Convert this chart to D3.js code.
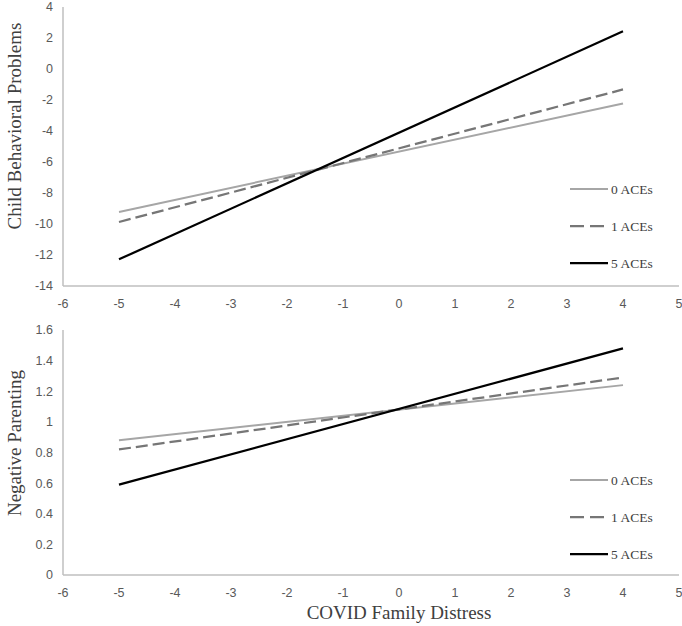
<!DOCTYPE html>
<html>
<head>
<meta charset="utf-8">
<script src="https://cdn.jsdelivr.net/npm/d3@7"></script>
<style>
  body { margin: 0; background: #fff; }
  .tick-label { font-family: "Liberation Sans", Arial, sans-serif; font-size: 12.5px; fill: #595959; }
  .title { font-family: "Liberation Serif", "Times New Roman", serif; font-size: 19px; fill: #404040; }
  .legend-text { font-family: "Liberation Serif", "Times New Roman", serif; font-size: 13.5px; fill: #404040; }
</style>
</head>
<body>
<svg class="chart"></svg>
<script>
    // Data
    const seriesNames = ["0 ACEs", "1 ACEs", "5 ACEs"];
    const distress = [-5, 4];
    const behaviorValues = [
        [-9.22, -2.22],
        [-9.87, -1.32],
        [-12.28, 2.43]
    ];
    const parentingValues = [
        [0.88, 1.24],
        [0.82, 1.29],
        [0.59, 1.48]
    ];
    const xTicks = [-6, -5, -4, -3, -2, -1, 0, 1, 2, 3, 4, 5];
    const behaviorTicks = [-14, -12, -10, -8, -6, -4, -2, 0, 2, 4];
    const parentingTicks = [0, 0.2, 0.4, 0.6, 0.8, 1, 1.2, 1.4, 1.6];

    const width = 682;
    const height = 626;

    const seriesStyle = [
        { stroke: "#a6a6a6", width: 2, dash: null },
        { stroke: "#767676", width: 2.25, dash: "12,5" },
        { stroke: "#000000", width: 2.25, dash: null }
    ];

    let svg = d3.select("svg.chart")
        .attr("width", width)
        .attr("height", height);

    let x = d3.scaleLinear().domain([-6, 5]).range([63, 679]);

    function drawPanel(opts) {
        let y = d3.scaleLinear().domain(opts.yDomain).range(opts.yRange);
        let g = svg.append("g");

        // axis lines
        g.append("line")
            .attr("x1", x(-6)).attr("x2", x(-6))
            .attr("y1", y(opts.yDomain[0])).attr("y2", y(opts.yDomain[1]))
            .attr("stroke", "#bfbfbf").attr("stroke-width", 1.5);
        g.append("line")
            .attr("x1", x(-6)).attr("x2", x(5))
            .attr("y1", y(opts.yDomain[0])).attr("y2", y(opts.yDomain[0]))
            .attr("stroke", "#bfbfbf").attr("stroke-width", 1.5);

        // y tick labels
        g.selectAll(".ytick")
            .data(opts.yTicks)
            .enter().append("text")
            .attr("class", "tick-label")
            .attr("x", 53)
            .attr("y", function (d) { return y(d); })
            .attr("dy", "0.35em")
            .attr("text-anchor", "end")
            .text(function (d) { return String(+d.toFixed(1)); });

        // x tick labels
        g.selectAll(".xtick")
            .data(xTicks)
            .enter().append("text")
            .attr("class", "tick-label")
            .attr("x", function (d) { return x(d); })
            .attr("y", y(opts.yDomain[0]) + 18)
            .attr("dy", "0.35em")
            .attr("text-anchor", "middle")
            .text(function (d) { return d; });

        // y title
        g.append("text")
            .attr("class", "title")
            .attr("transform", "translate(21," + opts.titleY + ") rotate(-90)")
            .attr("text-anchor", "middle")
            .text(opts.title);

        // lines
        let line = d3.line()
            .x(function (d) { return x(d[0]); })
            .y(function (d) { return y(d[1]); });

        opts.values.forEach(function (vals, i) {
            g.append("path")
                .datum(distress.map(function (xv, j) { return [xv, vals[j]]; }))
                .attr("fill", "none")
                .attr("stroke", seriesStyle[i].stroke)
                .attr("stroke-width", seriesStyle[i].width)
                .attr("stroke-dasharray", seriesStyle[i].dash)
                .attr("d", line);
        });

        // legend
        let legend = g.append("g").attr("class", "legend");
        seriesNames.forEach(function (name, i) {
            let ly = opts.legendY + i * 37;
            legend.append("line")
                .attr("x1", 570).attr("x2", 608)
                .attr("y1", ly).attr("y2", ly)
                .attr("stroke", seriesStyle[i].stroke)
                .attr("stroke-width", seriesStyle[i].width)
                .attr("stroke-dasharray", seriesStyle[i].dash ? "14,6" : null);
            legend.append("text")
                .attr("class", "legend-text")
                .attr("x", 611)
                .attr("y", ly)
                .attr("dy", "0.35em")
                .text(name);
        });
    }

    drawPanel({
        yDomain: [-14, 4],
        yRange: [286, 7],
        yTicks: behaviorTicks,
        values: behaviorValues,
        title: "Child Behavioral Problems",
        titleY: 126,
        legendY: 189
    });

    drawPanel({
        yDomain: [0, 1.6],
        yRange: [575, 330],
        yTicks: parentingTicks,
        values: parentingValues,
        title: "Negative Parenting",
        titleY: 443,
        legendY: 480
    });

    // shared x title
    svg.append("text")
        .attr("class", "title")
        .attr("x", x(0))
        .attr("y", 619)
        .attr("text-anchor", "middle")
        .text("COVID Family Distress");
</script>
</body>
</html>
